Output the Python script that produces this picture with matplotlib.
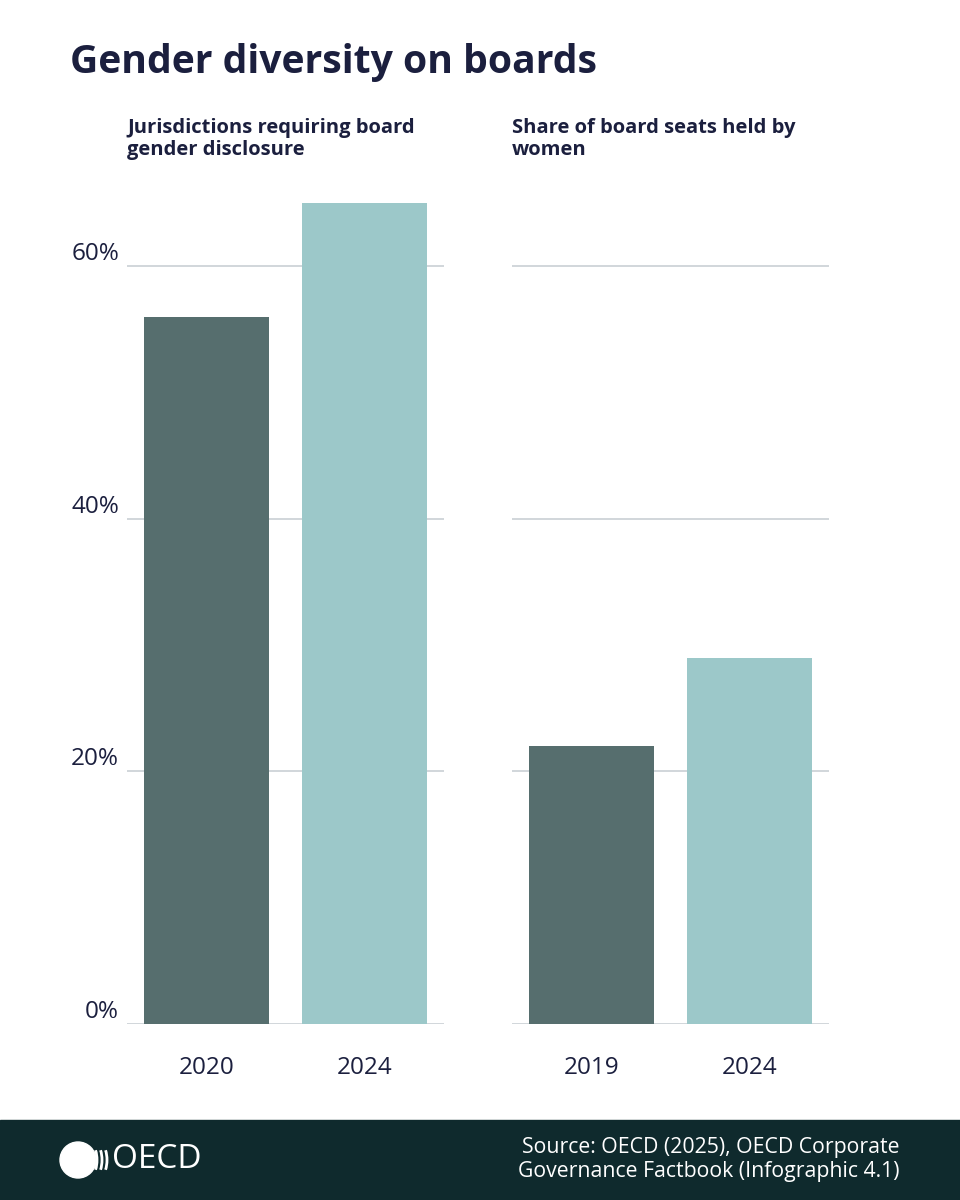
import matplotlib.pyplot as plt
from matplotlib.patches import Circle, Rectangle, Arc

plt.rcParams['font.family'] = ['Open Sans', 'DejaVu Sans']

# data
left_years = ['2020', '2024']
left_values = [56, 65]
right_years = ['2019', '2024']
right_values = [22, 29]
yticks = [0, 20, 40, 60]
ytick_labels = ['0%', '20%', '40%', '60%']

navy = '#1b1f3e'
dark_bar = '#566e6e'
light_bar = '#9cc8c9'
grid_col = '#c9d0d4'
footer_col = '#0f2a2d'

fig = plt.figure(figsize=(9.6, 12), dpi=100)

ax1 = fig.add_axes([0.1323, 0.1467, 0.330, 0.684])
ax2 = fig.add_axes([0.5333, 0.1467, 0.330, 0.684])

for ax, years, vals in [(ax1, left_years, left_values), (ax2, right_years, right_values)]:
  ax.bar(range(len(years)), vals, width=0.79, color=[dark_bar, light_bar], zorder=2)
  ax.set_xlim(-0.5, 1.5)
  ax.set_ylim(0, 65)
  ax.set_xticks(range(len(years)))
  ax.set_xticklabels(years, fontsize=17.5, color=navy)
  ax.tick_params(axis='x', length=0, pad=23)
  ax.set_yticks(yticks)
  ax.set_yticklabels([])
  ax.tick_params(axis='y', length=0)
  ax.grid(axis='y', color=grid_col, linewidth=1.2, zorder=0)
  ax.set_axisbelow(True)
  for s in ax.spines.values():
    s.set_visible(False)

# y labels sit a bit above the gridlines
for v, lab in zip(yticks, ytick_labels):
  ax1.text(-0.025, v, lab, transform=ax1.get_yaxis_transform(), ha='right', va='bottom',
           fontsize=17.5, color=navy)

fig.text(0.073, 0.948, 'Gender diversity on boards', fontsize=28.2, fontweight='bold',
         color=navy, va='center', ha='left')
fig.text(0.1323, 0.884, 'Jurisdictions requiring board\ngender disclosure', fontsize=14.5,
         fontweight='bold', color=navy, va='center', ha='left', linespacing=1.15)
fig.text(0.5333, 0.884, 'Share of board seats held by\nwomen', fontsize=14.5,
         fontweight='bold', color=navy, va='center', ha='left', linespacing=1.15)

# footer band
fig.patches.append(Rectangle((0, 0), 1, 80 / 1200, transform=fig.transFigure,
                             color=footer_col, zorder=-1))
fig.text(0.9375, 0.0335, 'Source: OECD (2025), OECD Corporate\nGovernance Factbook (Infographic 4.1)',
         fontsize=15.3, color='white', ha='right', va='center', linespacing=1.2)

# OECD logo: globe + chevrons in a small equal-aspect axes
lax = fig.add_axes([55 / 960, 1 - 1184 / 1200, 60 / 960, 48 / 1200])
lax.set_zorder(5)
lax.patch.set_visible(False)
lax.set_xlim(0, 60)
lax.set_ylim(0, 48)
lax.set_aspect('equal')
lax.axis('off')
lax.add_patch(Circle((23, 24), 18, color='white'))
for cx in [36, 41, 46]:
  lax.add_patch(Arc((cx, 24), 12, 30, theta1=-65, theta2=65, color='white', linewidth=2))
fig.text(112 / 960, 1 - 1160 / 1200, 'OECD', fontsize=24, color='white', ha='left', va='center')

fig.savefig('out.png', dpi=100)
